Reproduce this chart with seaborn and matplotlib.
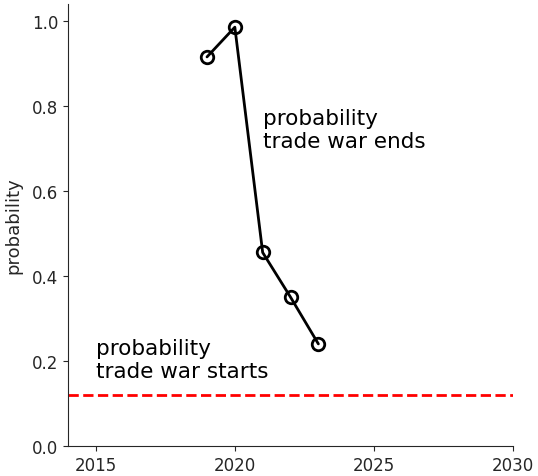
import numpy as np
import pandas as pd
import seaborn as sns
import matplotlib.pyplot as plt

# Data

years = [2019, 2020, 2021, 2022, 2023]
prob_ends = [0.915, 0.985, 0.455, 0.35, 0.24]
prob_starts = 0.12

df = pd.DataFrame({'year': years, 'probability': prob_ends})

sns.set_style('ticks')
plt.rcParams['font.family'] = ['DejaVu Sans']

fig = plt.figure(figsize=(5.38, 4.77), dpi=100)
ax = fig.add_axes([0.126, 0.063, 0.828, 0.927])

sns.lineplot(data=df, x='year', y='probability', color='black', linewidth=2,
             marker='o', markersize=9, markerfacecolor='none',
             markeredgecolor='black', markeredgewidth=2, ax=ax)
ax.axhline(prob_starts, color='red', linestyle='--', linewidth=2)

ax.text(2021.0, 0.795, 'probability\ntrade war ends', fontsize=15.5, va='top', color='black')
ax.text(2015, 0.255, 'probability\ntrade war starts', fontsize=15.5, va='top', color='black')

ax.set_xlim(2014, 2030)
ax.set_ylim(0, 1.04)
ax.set_xticks([2015, 2020, 2025, 2030])
ax.set_yticks([0.0, 0.2, 0.4, 0.6, 0.8, 1.0])
ax.tick_params(labelsize=12)
ax.set_xlabel('')
ax.set_ylabel('probability', fontsize=13, labelpad=7)
sns.despine(ax=ax)

fig.savefig('out.png', dpi=100)
